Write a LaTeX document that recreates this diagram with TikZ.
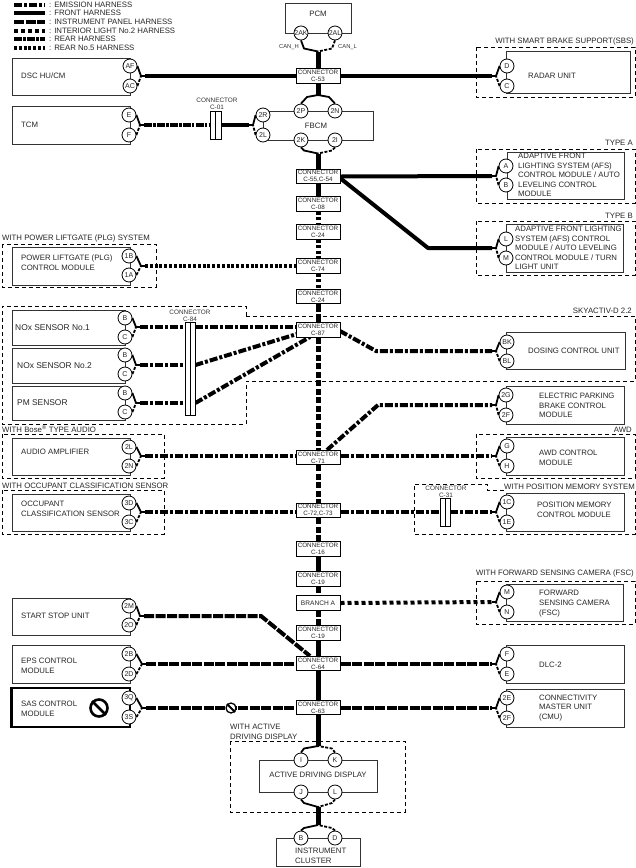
\documentclass[tikz,border=0pt]{standalone}
\usepackage{fontspec}
\setmainfont{Liberation Sans}
\usetikzlibrary{backgrounds,calc}
\tikzset{
  x=1pt,y=-1pt,
  lbl/.style={inner sep=0pt,align=left,anchor=west,text=black!85,font=\fontsize{7.8}{9.6}\selectfont},
  lblr/.style={lbl,anchor=east},
  lbls/.style={inner sep=0pt,align=center,text=black!80,font=\fontsize{6.4}{7}\selectfont},
  unit/.style={draw=black!80,line width=0.9pt},
  boldunit/.style={draw=black,line width=2.2pt},
  frame/.style={draw=black,line width=0.8pt,dash pattern=on 4pt off 3pt},
  pinc/.style={circle,draw=black,fill=white,line width=0.8pt,minimum size=14pt,inner sep=0pt,text=black!85,font=\fontsize{7}{7}\selectfont},
  connbox/.style={draw=black,fill=white,line width=1pt,minimum width=44pt,minimum height=14.5pt,inner sep=0pt,align=center,text=black!85,font=\fontsize{6.3}{6.8}\selectfont},
  bar/.style={draw=black,fill=white,line width=0.8pt,inner sep=0pt},
  wire/.style={draw=black,line width=4pt,line cap=butt},
  spine/.style={draw=black,line width=5pt,line cap=butt},
  front/.style={wire},
  emis/.style={wire,dash pattern=on 8pt off 2pt on 3pt off 2pt},
  inst/.style={wire,dash pattern=on 10pt off 1.5pt},
  inter/.style={wire,dash pattern=on 4pt off 3pt},
  rearh/.style={wire,dash pattern=on 8pt off 1.2pt on 2.5pt off 1.2pt},
  rearfive/.style={wire,dash pattern=on 3pt off 1.8pt},
  spsq/.style={spine,dash pattern=on 6pt off 2.5pt},
  spdot/.style={spine,dash pattern=on 3.2pt off 2.2pt},
  leg/.style={draw=black,line width=1.8pt,line cap=butt,line join=round},
  legd/.style={leg,dash pattern=on 3pt off 1.5pt},
}
\newcommand{\pn}[4]{\node[pinc] (#1) at (#3,#4) {#2};}
\newcommand{\cn}[3]{\node[connbox] (#1) at (318,#3) {#2};}
\newcommand{\hookR}[3]{%
  \draw[leg] (#1.east) -- ($(#3)+(-4,0)$ |- #1.east) -- (#3);
  \draw[legd] (#2.east) -- ($(#3)+(-4,0)$ |- #2.east) -- (#3);}
\newcommand{\hookL}[3]{%
  \draw[leg] (#1.west) -- ($(#3)+(4,0)$ |- #1.west) -- (#3);
  \draw[legd] (#2.west) -- ($(#3)+(4,0)$ |- #2.west) -- (#3);}
% #1,#2 pins, #3 junction, #4 anchor of the pins, #5 vertical offset of the bend
\newcommand{\hookV}[5]{%
  \draw[leg] (#1.#4) -- ($(#3)+(-14,#5)$) -- (#3);
  \draw[legd] (#2.#4) -- ($(#3)+(14,#5)$) -- (#3);}
\begin{document}
\begin{tikzpicture}
\path[use as bounding box] (0,0) rectangle (636,868);

% legend
\foreach \n/\t/\yy in {lga/: EMISSION HARNESS/5,lgb/: FRONT HARNESS/13,lgc/: INSTRUMENT PANEL HARNESS/22,lgd/: INTERIOR LIGHT No.2 HARNESS/31,lge/: REAR HARNESS/39,lgf/: REAR No.5 HARNESS/48}
  {\node[lbl] (\n) at (49,\yy) {\t}; \coordinate (\n s) at (14,\yy);}
\draw[emis,shorten >=4pt] (lgas) -- (lga.west);
\draw[front,shorten >=4pt] (lgbs) -- (lgb.west);
\draw[inst,shorten >=4pt] (lgcs) -- (lgc.west);
\draw[inter,shorten >=4pt] (lgds) -- (lgd.west);
\draw[rearh,shorten >=4pt] (lges) -- (lge.west);
\draw[rearfive,shorten >=4pt] (lgfs) -- (lgf.west);

% dashed frames and their titles
\draw[frame] (476,47) rectangle (635,97);
\node[lblr] (tsbs) at (634,41) {WITH SMART BRAKE SUPPORT(SBS)};
\draw[frame] (476,149) rectangle (635,203);
\node[lblr] (ttypea) at (633,143) {TYPE A};
\draw[frame] (476,221) rectangle (635,275);
\node[lblr] (ttypeb) at (633,216) {TYPE B};
\draw[frame] (2,244) rectangle (156,287);
\node[lbl] (tplg) at (2,238) {WITH POWER LIFTGATE (PLG) SYSTEM};
\draw[frame] (246,316) -- (635,316) -- (635,381) -- (246,381) -- (246,424) -- (2,424) -- (2,306) -- (246,306) -- cycle;
\node[lblr] (tsky) at (632,311) {SKYACTIV-D 2.2};
\draw[frame] (2,434) rectangle (164,478);
\node[lbl] (tbose) at (2,429.5) {WITH Bose\textsuperscript{\textregistered} TYPE AUDIO};
\draw[frame] (2,490) rectangle (164,534);
\node[lbl] (tocc) at (2,485.5) {WITH OCCUPANT CLASSIFICATION SENSOR};
\draw[frame] (476,434) rectangle (635,478);
\node[lblr] (tawd) at (632,430) {AWD};
\draw[frame] (504,490) -- (487,490) -- (487,484) -- (414,484) -- (414,534) -- (635,534) -- (635,490);
\node[lblr] (tpos) at (635,487) {WITH POSITION MEMORY SYSTEM};
\draw[frame] (476,581) rectangle (635,624);
\node[lblr] (tfsc) at (634,573) {WITH FORWARD SENSING CAMERA (FSC)};
\draw[frame] (230,741) rectangle (405,812);
\node[lbl] (tadd) at (230,732) {WITH ACTIVE\\DRIVING DISPLAY};

% units
\draw[unit] (285,3) rectangle (351,33);
\node[lbl,anchor=center] (tpcm) at (318,14) {PCM};
\draw[unit] (263,111) rectangle (373,140);
\node[lbl,anchor=center] (tfbcm) at (316,126) {FBCM};
\draw[unit] (12,58) rectangle (130,95);
\node[lbl] (tdsc) at (21,76) {DSC HU/CM};
\draw[unit] (12,106) rectangle (130,144);
\node[lbl] (ttcm) at (21,125) {TCM};
\draw[unit] (12,247) rectangle (130,285);
\node[lbl] (tplgm) at (21,263) {POWER LIFTGATE (PLG)\\CONTROL MODULE};
\draw[unit] (12,310) rectangle (125,345);
\node[lbl] (tnox1) at (15,328) {\fontsize{8.4}{9.6}\selectfont NOx SENSOR No.1};
\draw[unit] (12,348) rectangle (125,383);
\node[lbl] (tnox2) at (17,366) {\fontsize{8.4}{9.6}\selectfont NOx SENSOR No.2};
\draw[unit] (12,386) rectangle (125,420);
\node[lbl] (tpm) at (17,403) {\fontsize{8.4}{9.6}\selectfont PM SENSOR};
\draw[unit] (12,438) rectangle (130,475);
\node[lbl] (taudio) at (21,452) {AUDIO AMPLIFIER};
\draw[unit] (12,494) rectangle (130,531);
\node[lbl] (tocs) at (21,509) {OCCUPANT\\CLASSIFICATION SENSOR};
\draw[unit] (12,598) rectangle (130,635);
\node[lbl] (tstart) at (21,616) {START STOP UNIT};
\draw[unit] (12,645) rectangle (130,683);
\node[lbl] (teps) at (21,666) {EPS CONTROL\\MODULE};
\draw[boldunit] (11.5,688) rectangle (130,727);
\node[lbl] (tsas) at (21,709) {SAS CONTROL\\MODULE};
\draw[unit] (506,51) rectangle (630,93);
\node[lbl] (tradar) at (528,76) {RADAR UNIT};
\draw[unit] (507,152) rectangle (624,199);
\node[lbl] (tafsa) at (518,175) {ADAPTIVE FRONT\\LIGHTING SYSTEM (AFS)\\CONTROL MODULE / AUTO\\LEVELING CONTROL\\MODULE};
\draw[unit] (506,224) rectangle (623,272);
\node[lbl] (tafsb) at (515,248) {ADAPTIVE FRONT LIGHTING\\SYSTEM (AFS) CONTROL\\MODULE / AUTO LEVELING\\CONTROL MODULE / TURN\\LIGHT UNIT};
\draw[unit] (506,332) rectangle (625,369);
\node[lbl] (tdos) at (528,351) {DOSING CONTROL UNIT};
\draw[unit] (506,386) rectangle (624,424);
\node[lbl] (tepb) at (539,405.5) {ELECTRIC PARKING\\BRAKE CONTROL\\MODULE};
\draw[unit] (506,437) rectangle (624,475);
\node[lbl] (tawdm) at (539,458) {AWD CONTROL\\MODULE};
\draw[unit] (506,493) rectangle (624,531);
\node[lbl] (tposm) at (537,510) {POSITION MEMORY\\CONTROL MODULE};
\draw[unit] (506,584) rectangle (623,621);
\node[lbl] (tfscm) at (539,603.5) {FORWARD\\SENSING CAMERA\\(FSC)};
\draw[unit] (506,645) rectangle (624,683);
\node[lbl] (tdlc) at (539,665) {DLC-2};
\draw[unit] (506,689) rectangle (624,727);
\node[lbl] (tcmu) at (539,708) {CONNECTIVITY\\MASTER UNIT\\(CMU)};
\draw[unit] (259,760) rectangle (377,792);
\node[lbl,anchor=center] (tadm) at (318,775) {ACTIVE DRIVING DISPLAY};
\draw[unit] (276,838) rectangle (360,866);
\node[lbl] (tic) at (295,856) {INSTRUMENT\\CLUSTER};

% connectors on the trunk
\cn{cf}{CONNECTOR\\C-53}{76}
\cn{cs}{CONNECTOR\\C-55,C-54}{176.5}
\cn{ce}{CONNECTOR\\C-08}{204}
\cn{ctf}{CONNECTOR\\C-24}{232}
\cn{cts}{CONNECTOR\\C-74}{266}
\cn{ctg}{CONNECTOR\\C-24}{296.5}
\cn{cg}{CONNECTOR\\C-87}{330}
\cn{ch}{CONNECTOR\\C-71}{457.5}
\cn{ci}{CONNECTOR\\C-72,C-73}{510.5}
\cn{cj}{CONNECTOR\\C-16}{549}
\cn{ck}{CONNECTOR\\C-19}{579}
\node[connbox,font=\fontsize{6.6}{7}\selectfont] (br) at (318,603) {BRANCH A};
\cn{cl}{CONNECTOR\\C-19}{633}
\cn{cm}{CONNECTOR\\C-64}{663.5}
\cn{cn}{CONNECTOR\\C-63}{707.5}

% inline connectors
\node[bar,minimum width=11pt,minimum height=28pt] (co) at (215.5,125) {};
\draw[black,line width=0.7pt] (co.north) -- (co.south);
\node[lbls] (tco) at (217,103.5) {CONNECTOR\\C-01};
\node[bar,minimum width=10pt,minimum height=93pt] (cef) at (190,368.5) {};
\draw[black,line width=0.7pt] (cef.north) -- (cef.south);
\node[lbls] (tcef) at (190,315.5) {CONNECTOR\\C-84};
\node[bar,minimum width=10pt,minimum height=28pt] (ctl) at (445,512) {};
\draw[black,line width=0.7pt] (ctl.north) -- (ctl.south);
\node[lbls] (tctl) at (446,491.5) {CONNECTOR\\C-31};
\node[lbls,font=\fontsize{5.8}{6.5}\selectfont,anchor=east] (tcanh) at (299,47) {CAN\_H};
\node[lbls,font=\fontsize{5.8}{6.5}\selectfont,anchor=west] (tcanl) at (338,47) {CAN\_L};

% pins
\pn{ak}{2AK}{301}{33}\pn{al}{2AL}{335}{33}
\pn{fp}{2P}{301}{111}\pn{fn}{2N}{335}{111}
\pn{fk}{2K}{301}{140}\pn{fi}{2I}{335}{140}
\pn{fr}{2R}{263}{115}\pn{fl}{2L}{263}{135}
\pn{af}{AF}{130}{66}\pn{ac}{AC}{130}{86}
\pn{te}{E}{129}{115}\pn{tf}{F}{129}{135}
\pn{pb}{1B}{129}{256}\pn{pa}{1A}{129}{275}
\pn{xb}{B}{125}{318}\pn{xc}{C}{125}{337}
\pn{yb}{B}{125}{355}\pn{yc}{C}{125}{374}
\pn{zb}{B}{125}{393}\pn{zc}{C}{125}{412}
\pn{au}{2L}{129}{447}\pn{av}{2N}{129}{466}
\pn{oc}{3D}{129}{503}\pn{od}{3C}{129}{522}
\pn{sa}{2M}{129}{606}\pn{sb}{2O}{129}{625}
\pn{ea}{2B}{129}{654}\pn{eb}{2D}{129}{674}
\pn{na}{3Q}{129}{698}\pn{nb}{3S}{129}{717}
\pn{rd}{D}{507}{66}\pn{rc}{C}{507}{86}
\pn{ta}{A}{506}{166}\pn{tb}{B}{506}{185}
\pn{tl}{L}{506}{239}\pn{tm}{M}{506}{258}
\pn{dk}{BK}{507}{342}\pn{dl}{BL}{507}{361}
\pn{ga}{2G}{506}{395}\pn{gb}{2F}{506}{415}
\pn{wg}{G}{507}{446}\pn{wh}{H}{507}{466}
\pn{qc}{1C}{507}{502}\pn{qe}{1E}{507}{522}
\pn{vm}{M}{507}{592}\pn{vn}{N}{507}{612}
\pn{lf}{F}{507}{654}\pn{le}{E}{507}{674}
\pn{ue}{2E}{507}{698}\pn{uf}{2F}{507}{718}
\pn{di}{I}{301}{760}\pn{dk2}{K}{335}{760}
\pn{dj}{J}{301}{792}\pn{dll}{L}{335}{792}
\pn{ib}{B}{301}{838}\pn{id}{D}{335}{838}

% no-entry marks
\node[circle,draw=black,line width=2.6pt,minimum size=17pt,inner sep=0pt] (nosa) at (99,708) {};
\draw[black,line width=2.6pt] (nosa.north west) -- (nosa.south east);
\node[circle,draw=black,fill=white,line width=1.3pt,minimum size=10pt,inner sep=0pt] (nosb) at (231,708) {};
\draw[black,line width=2pt] (nosb.north west) -- (nosb.south east);

% junctions
\coordinate (jpcm) at (318,51.5);
\coordinate (jtop) at (318,95);
\coordinate (jbot) at (318,153.5);
\coordinate (jadt) at (318,746);
\coordinate (jadb) at (318,807);
\coordinate (jic) at (318,825);
\coordinate (jaf) at (145,76);
\coordinate (jte) at (144,125);
\coordinate (jfr) at (249,125);
\coordinate (jp) at (145,266);
\coordinate (jx) at (140,327);
\coordinate (jy) at (140,365);
\coordinate (jz) at (140,403);
\coordinate (jau) at (145,456);
\coordinate (joc) at (145,512);
\coordinate (jsa) at (144,616);
\coordinate (jea) at (146,664);
\coordinate (jna) at (146,708);
\coordinate (jrd) at (492,76);
\coordinate (jta) at (492,176);
\coordinate (jtl) at (492,248);
\coordinate (jdk) at (492,351);
\coordinate (jga) at (492,405);
\coordinate (jwg) at (492,456);
\coordinate (jqc) at (492,512);
\coordinate (jvm) at (492,602);
\coordinate (jlf) at (492,664);
\coordinate (jue) at (492,708);
\coordinate (bendb) at (428,248);
\coordinate (benddos) at (376,351);
\coordinate (bendepb) at (378,405);
\coordinate (bendst) at (261,616);
\coordinate (footst) at (310,656);
\coordinate (footepb) at (327,450);
\coordinate (ftb) at (340,178);
\coordinate (footdos) at (340,331);
\coordinate (footy) at (297,334);
\coordinate (footz) at (310,337);

\begin{pgfonlayer}{background}
% trunk
\draw[spine] (jpcm) -- (cf.north);
\draw[spine] (cf.south) -- (jtop);
\draw[spine] (jbot) -- (cs.north);
\draw[spine] (cs.south) -- (ce.north);
\draw[spdot] (ce.south) -- (ctf.north);
\draw[spdot] (ctf.south) -- (cts.north);
\draw[spdot] (cts.south) -- (ctg.north);
\draw[spine,dash pattern=on 8pt off 2pt] (ctg.south) -- (cg.north);
\draw[spsq] (cg.south) -- (ch.north);
\draw[spsq] (ch.south) -- (ci.north);
\draw[spsq] (ci.south) -- (cj.north);
\draw[spine] (cj.south) -- (ck.north);
\draw[spsq] (ck.south) -- (br.north);
\draw[spsq] (br.south) -- (cl.north);
\draw[spine] (cl.south) -- (cm.north);
\draw[spine] (cm.south) -- (cn.north);
\draw[spine] (cn.south) -- (jadt);
\draw[spine] (jadb) -- (jic);
% branches
\draw[front] (jaf) -- (cf.west);
\draw[front] (cf.east) -- (jrd);
\draw[front] (cs.east) -- (jta);
\draw[front,line join=round] (ftb) -- (bendb) -- (jtl);
\draw[rearh] (jte) -- (co.west);
\draw[front] (co.east) -- (jfr);
\draw[rearfive] (jp) -- (cts.west);
\draw[emis] (jx) -- (jx -| cef.west);
\draw[emis] (jy) -- (jy -| cef.west);
\draw[emis] (jz) -- (jz -| cef.west);
\draw[emis] (jx -| cef.east) -- (jx -| cg.west);
\draw[emis] (jy -| cef.east) -- (footy);
\draw[emis] (jz -| cef.east) -- (footz);
\draw[emis] (footdos) -- (benddos) -- (jdk);
\draw[emis] (footepb) -- (bendepb) -- (jga);
\draw[emis] (jau) -- (jau -| ch.west);
\draw[emis] (jau -| ch.east) -- (jwg);
\draw[emis] (joc) -- (joc -| ci.west);
\draw[emis] (joc -| ci.east) -- (joc -| ctl.west);
\draw[emis] (joc -| ctl.east) -- (jqc);
\draw[inter] (br.east) -- (jvm);
\draw[inst] (jsa) -- (bendst) -- (footst);
\draw[inst] (jea) -- (jea -| cm.west);
\draw[inst] (jea -| cm.east) -- (jlf);
\draw[inst] (jna) -- (jna -| cn.west);
\draw[inst] (jna -| cn.east) -- (jue);
% pin hooks
\hookV{ak}{al}{jpcm}{south}{-3}
\hookV{ib}{id}{jic}{north}{3}
\hookV{dj}{dll}{jadb}{south}{-4}
\hookV{di}{dk2}{jadt}{north}{2.5}
\hookV{fk}{fi}{jbot}{south}{-3}
\draw[leg] (fp.north) -- ($(jtop)+(-11,2)$) -- (jtop);
\draw[leg] (fn.north) -- ($(jtop)+(11,2)$) -- (jtop);
\hookR{af}{ac}{jaf}\hookR{te}{tf}{jte}\hookR{pb}{pa}{jp}
\hookR{xb}{xc}{jx}\hookR{yb}{yc}{jy}\hookR{zb}{zc}{jz}
\hookR{au}{av}{jau}\hookR{oc}{od}{joc}
\hookR{sa}{sb}{jsa}\hookR{ea}{eb}{jea}\hookR{na}{nb}{jna}
\hookL{rd}{rc}{jrd}\hookL{ta}{tb}{jta}\hookL{tl}{tm}{jtl}
\hookL{dk}{dl}{jdk}\hookL{ga}{gb}{jga}\hookL{wg}{wh}{jwg}
\hookL{qc}{qe}{jqc}\hookL{vm}{vn}{jvm}\hookL{lf}{le}{jlf}\hookL{ue}{uf}{jue}
\hookL{fr}{fl}{jfr}
\end{pgfonlayer}
\end{tikzpicture}
\end{document}
